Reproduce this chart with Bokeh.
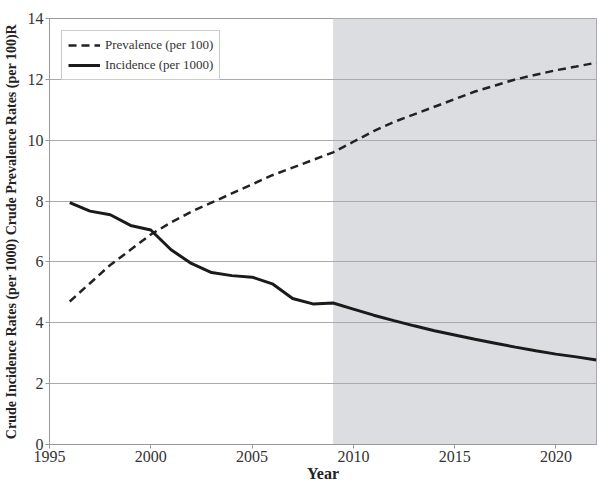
from bokeh.plotting import figure
from bokeh.models import Range1d, BoxAnnotation, Legend, LegendItem, FixedTicker
from bokeh.embed import file_html
from bokeh.resources import INLINE

years = list(range(1996, 2023))
prevalence = [4.7, 5.3, 5.9, 6.4, 6.9, 7.3, 7.65, 7.95, 8.25, 8.55, 8.85, 9.1, 9.35, 9.6,
              9.95, 10.3, 10.6, 10.85, 11.1, 11.35, 11.6, 11.8, 12.0, 12.15, 12.3, 12.42, 12.55]
incidence = [7.95, 7.67, 7.55, 7.2, 7.05, 6.4, 5.95, 5.65, 5.55, 5.5, 5.28, 4.8, 4.62, 4.65,
             4.45, 4.25, 4.07, 3.9, 3.74, 3.6, 3.46, 3.33, 3.2, 3.08, 2.97, 2.88, 2.78]
projection_start = 2009
x_ticks = [1995, 2000, 2005, 2010, 2015, 2020]
y_ticks = [0, 2, 4, 6, 8, 10, 12, 14]

FONT = "Liberation Serif"

p = figure(width=598, height=484, output_backend="svg", toolbar_location=None,
           x_range=Range1d(1995, 2022), y_range=Range1d(0, 14),
           min_border_left=2, min_border_right=2, min_border_top=18, min_border_bottom=2)

shade = BoxAnnotation(left=projection_start, right=2022, fill_color="#dcdde0", fill_alpha=1.0,
                      line_color=None, level="image")
p.add_layout(shade)

r_prev = p.line(years, prevalence, line_color="#222222", line_width=2.5, line_dash="8 5")
r_inc = p.line(years, incidence, line_color="#1a1a1a", line_width=3)

legend = Legend(items=[LegendItem(label="Prevalence (per 100)", renderers=[r_prev]),
                       LegendItem(label="Incidence (per 1000)", renderers=[r_inc])],
                location="top_left")
legend.label_text_font = FONT
legend.label_text_font_size = "13px"
legend.label_text_color = "#333333"
legend.border_line_color = "#999999"
legend.border_line_width = 1
legend.glyph_width = 32
legend.glyph_height = 16
legend.spacing = 4
legend.padding = 6
legend.margin = 12
legend.background_fill_alpha = 1
p.add_layout(legend)

p.xgrid.grid_line_color = None
p.ygrid.grid_line_color = "#aaaaaa"
p.ygrid.grid_line_width = 1.2
p.outline_line_color = "#999999"

p.xaxis.ticker = FixedTicker(ticks=x_ticks)
p.yaxis.ticker = FixedTicker(ticks=y_ticks)
for ax in (p.xaxis, p.yaxis):
    ax.axis_line_color = "#999999"
    ax.major_tick_line_color = "#999999"
    ax.minor_tick_line_color = None
    ax.major_tick_in = 0
    ax.major_tick_out = 4
    ax.major_label_text_font = FONT
    ax.major_label_text_font_size = "16px"
    ax.major_label_text_color = "#333333"
    ax.major_label_standoff = 2
    ax.axis_label_text_font = FONT
    ax.axis_label_text_font_style = "bold"
    ax.axis_label_text_color = "#222222"

p.xaxis.axis_label = "Year"
p.xaxis.axis_label_text_font_size = "16px"
p.xaxis.axis_label_standoff = 0
p.yaxis.axis_label = "Crude Incidence Rates (per 1000) Crude Prevalence Rates (per 100)R"
p.yaxis.axis_label_text_font_size = "14px"
p.yaxis.axis_label_standoff = 6

open("out.html", "w").write(file_html(p, INLINE))
